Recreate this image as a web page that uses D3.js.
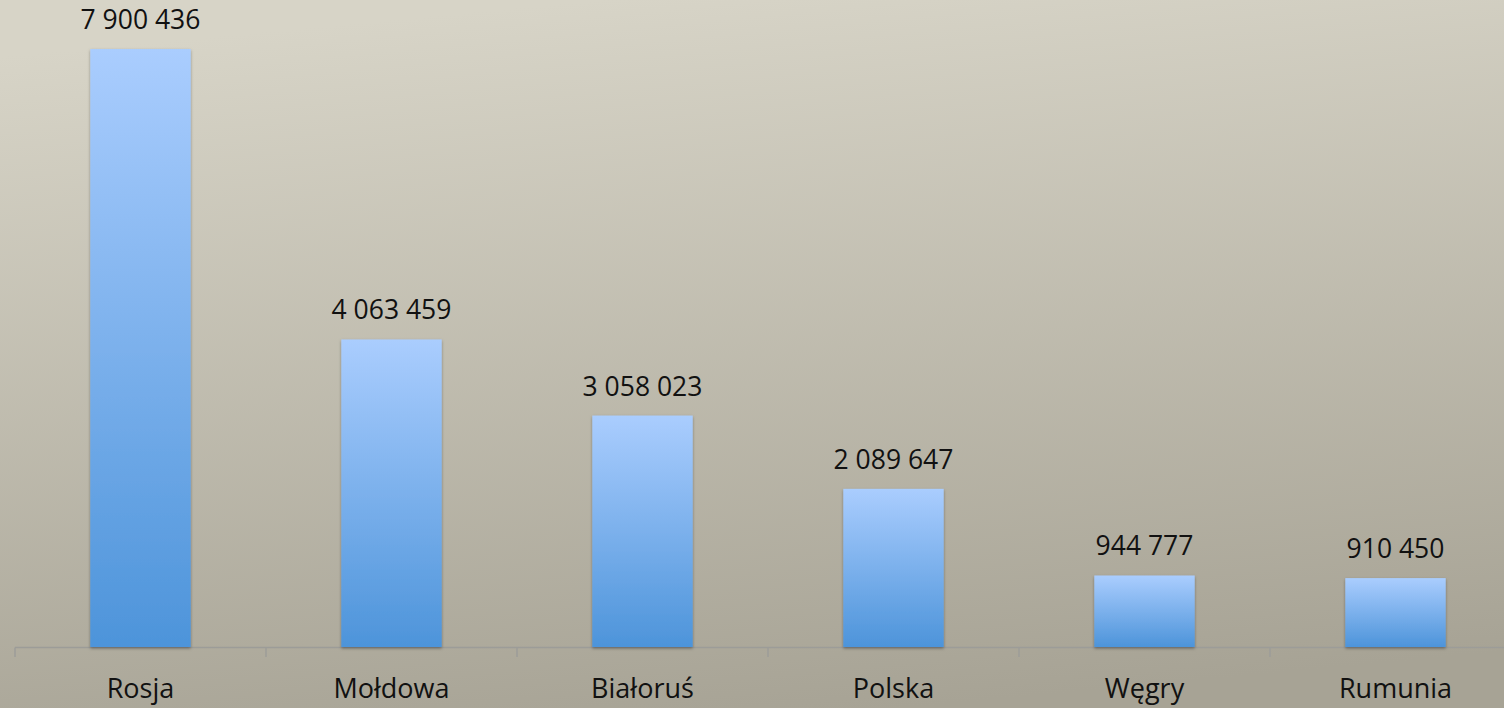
<!DOCTYPE html>
<html>
<head>
<meta charset="utf-8">
<script src="https://cdn.jsdelivr.net/npm/d3@7"></script>
<style>
  html, body { margin: 0; padding: 0; overflow: hidden; }
  svg { display: block; }
  text { font-family: "Open Sans", sans-serif; fill: #111; }
</style>
</head>
<body>
<svg id="chart"></svg>
<script>
var width = 1504, height = 708;

// data
var countries = ["Rosja", "Mołdowa", "Białoruś", "Polska", "Węgry", "Rumunia"];
var values = [7900436, 4063459, 3058023, 2089647, 944777, 910450];

var svg = d3.select("#chart")
    .attr("width", width)
    .attr("height", height);

var defs = svg.append("defs");

// background gradient
var bg = defs.append("linearGradient")
    .attr("id", "bg")
    .attr("x1", 0.4).attr("y1", 0)
    .attr("x2", 0.6).attr("y2", 1);
bg.append("stop").attr("offset", "0%").attr("stop-color", "#d7d4c7");
bg.append("stop").attr("offset", "100%").attr("stop-color", "#a7a395");

// bar gradient
var barGrad = defs.append("linearGradient")
    .attr("id", "barGrad")
    .attr("x1", 0).attr("y1", 0)
    .attr("x2", 0).attr("y2", 1);
barGrad.append("stop").attr("offset", "0%").attr("stop-color", "#aacdfe");
barGrad.append("stop").attr("offset", "100%").attr("stop-color", "#4d94da");

var shadow = defs.append("filter")
    .attr("id", "shadow")
    .attr("x", "-10%").attr("y", "-10%")
    .attr("width", "120%").attr("height", "120%");
shadow.append("feDropShadow")
    .attr("dx", 0).attr("dy", 1.5)
    .attr("stdDeviation", 1.5)
    .attr("flood-color", "#000")
    .attr("flood-opacity", 0.35);

svg.append("rect")
    .attr("width", width)
    .attr("height", height)
    .attr("fill", "url(#bg)");

var x = d3.scaleBand()
    .domain(countries)
    .range([15, 1521])
    .paddingInner(0.6)
    .paddingOuter(0.3);

var y = d3.scaleLinear()
    .domain([0, 8000000])
    .range([647, 41.5]);

var fmt = d3.formatLocale({ decimal: ",", thousands: " ", grouping: [3], currency: ["", ""] }).format(",d");

var data = countries.map(function (c, i) {
    return { name: c, value: values[i] };
});

// axis line and boundary ticks
var axis = svg.append("g");
axis.append("line")
    .attr("x1", 15).attr("x2", width)
    .attr("y1", 647.5).attr("y2", 647.5)
    .attr("stroke", "#9c9c98")
    .attr("stroke-width", 1.5);
axis.selectAll("line.tick")
    .data(d3.range(countries.length + 1))
    .enter().append("line")
    .attr("class", "tick")
    .attr("x1", function (i) { return 15 + i * x.step(); })
    .attr("x2", function (i) { return 15 + i * x.step(); })
    .attr("y1", 647.5).attr("y2", 657)
    .attr("stroke", "#9c9c98")
    .attr("stroke-width", 1.5);

// bars
svg.selectAll("rect.bar")
    .data(data)
    .enter().append("rect")
    .attr("class", "bar")
    .attr("x", function (d) { return x(d.name); })
    .attr("y", function (d) { return y(d.value); })
    .attr("width", x.bandwidth())
    .attr("height", function (d) { return y(0) - y(d.value); })
    .attr("fill", "url(#barGrad)")
    .attr("filter", "url(#shadow)");

// value labels
svg.selectAll("text.val")
    .data(data)
    .enter().append("text")
    .attr("class", "val")
    .attr("x", function (d) { return x(d.name) + x.bandwidth() / 2; })
    .attr("y", function (d) { return y(d.value) - 20; })
    .attr("text-anchor", "middle")
    .style("font-size", "26.5px")
    .text(function (d) { return fmt(d.value); });

// category labels
svg.selectAll("text.cat")
    .data(data)
    .enter().append("text")
    .attr("class", "cat")
    .attr("x", function (d) { return x(d.name) + x.bandwidth() / 2; })
    .attr("y", 698)
    .attr("text-anchor", "middle")
    .style("font-size", "27px")
    .text(function (d) { return d.name; });
</script>
</body>
</html>
